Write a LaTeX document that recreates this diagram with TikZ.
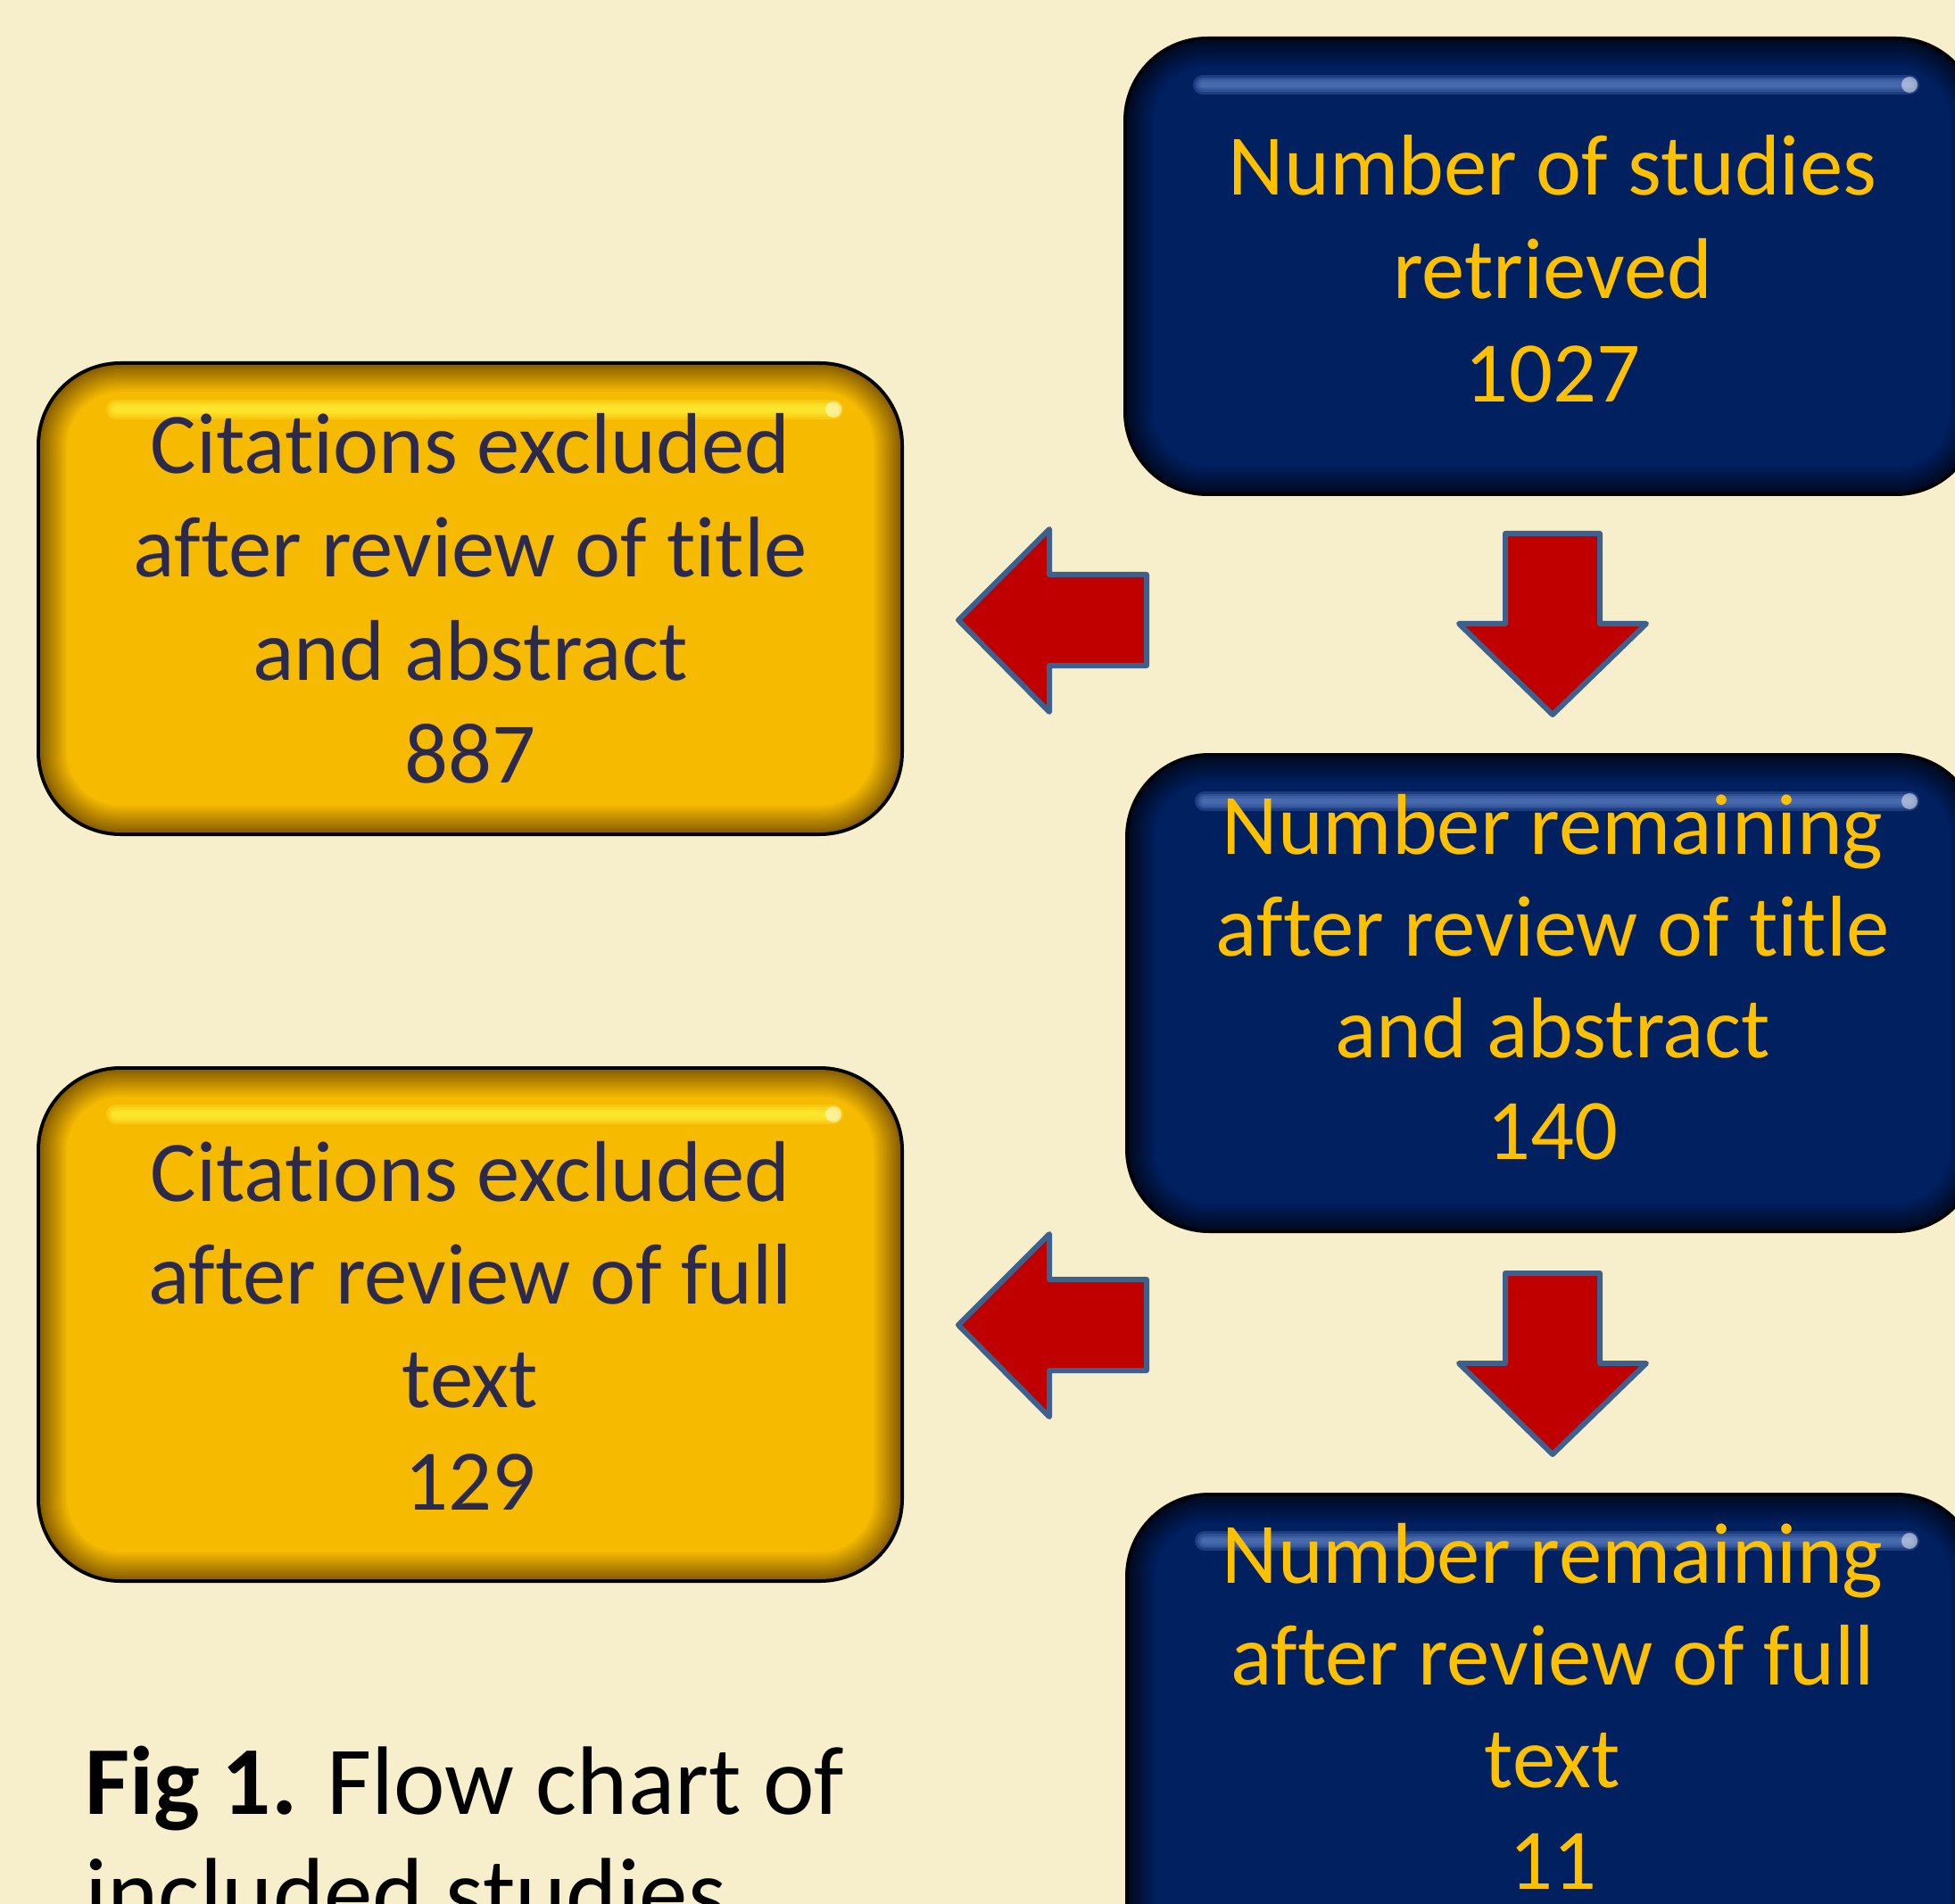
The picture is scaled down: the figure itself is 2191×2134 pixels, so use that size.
\documentclass[tikz,border=0pt]{standalone}
\usepackage{fontspec}
\setmainfont{Carlito}[Ligatures=NoCommon]
\usetikzlibrary{positioning}
\definecolor{cream}{RGB}{247,239,203}
\definecolor{navy}{RGB}{0,32,96}
\definecolor{navydark}{RGB}{0,10,36}
\definecolor{gold}{RGB}{255,192,0}
\definecolor{amber}{RGB}{246,186,0}
\definecolor{amberdark}{RGB}{140,98,0}
\definecolor{inkblue}{RGB}{43,42,77}
\definecolor{arrowred}{RGB}{192,0,0}
\definecolor{arrowedge}{RGB}{62,96,140}
\definecolor{glossblue}{RGB}{95,130,200}
\definecolor{glossyellow}{RGB}{255,245,60}

\begin{document}
\begin{tikzpicture}[x=0.01cm, y=-0.01cm,
    bluetext/.style={anchor=base, inner sep=0pt, text=gold, font=\fontsize{27.5}{33}\selectfont},
    yellowtext/.style={anchor=base, inner sep=0pt, text=inkblue, font=\fontsize{27.5}{33}\selectfont},
    blockarrow/.style={fill=arrowred, draw=arrowedge, line width=0.6mm, line join=round},
    gloss/.style={line cap=round, opacity=0.3}
]
    \clip (0,0) rectangle (2191,2134);
    \fill[cream] (0,0) rectangle (2191,2134);

    % Glossy boxes
    \foreach \xa/\ya/\xb/\yb/\main/\dark/\shine in {
        1263/45/2215/552/navy/navydark/glossblue,
        1265/848/2215/1378/navy/navydark/glossblue,
        1265/1677/2215/2300/navy/navydark/glossblue,
        45/409/1009/933/amber/amberdark/glossyellow,
        45/1199/1009/1770/amber/amberdark/glossyellow} {
        \fill[black, rounded corners=9.4mm] (\xa-4,\ya-4) rectangle (\xb+4,\yb+4);
        \foreach \i in {0,...,12} {
            \pgfmathsetmacro{\dd}{\i*2.5}
            \pgfmathsetmacro{\rad}{9-\i*0.25}
            \pgfmathsetmacro{\pct}{\i*100/12}
            \fill[\main!\pct!\dark, rounded corners=\rad mm] (\xa+\dd,\ya+\dd) rectangle (\xb-\dd,\yb-\dd);
        }
        \foreach \w in {2.2,1.6,1.1,0.6}
            \draw[gloss, \shine, line width=\w mm] (\xa+85,\ya+50) -- (\xb-75,\ya+50);
        \fill[white, opacity=0.5] (\xb-75,\ya+50) circle (9);
    }

    % Box texts
    \foreach \t [count=\k] in {Number of studies, retrieved, 1027}
        \node[bluetext] (found\k) at (1740,{219+116*(\k-1)}) {\t};
    \foreach \t [count=\k] in {Number remaining, after review of title, and abstract, 140}
        \node[bluetext] (screen\k) at (1740,{957+114*(\k-1)}) {\t};
    \foreach \t [count=\k] in {Number remaining, after review of full, text, 11}
        \node[bluetext] (incl\k) at (1740,{1774+114.5*(\k-1)}) {\t};
    \foreach \t [count=\k] in {Citations excluded, after review of title, and abstract, 887}
        \node[yellowtext] (exA\k) at (527,{531+115.5*(\k-1)}) {\t};
    \foreach \t [count=\k] in {Citations excluded, after review of full, text, 129}
        \node[yellowtext] (exB\k) at (527,{1346+115.5*(\k-1)}) {\t};

    % Left arrows
    \foreach \dy in {0,790}
        \draw[blockarrow] (1074,{695+\dy}) -- (1176,{593+\dy}) -- (1176,{644+\dy}) -- (1285,{644+\dy})
            -- (1285,{746+\dy}) -- (1176,{746+\dy}) -- (1176,{798+\dy}) -- cycle;

    % Down arrows
    \foreach \dy in {0,829}
        \draw[blockarrow] (1687,{598+\dy}) -- (1793,{598+\dy}) -- (1793,{699+\dy}) -- (1845,{699+\dy})
            -- (1740,{801+\dy}) -- (1635,{699+\dy}) -- (1687,{699+\dy}) -- cycle;

    % Caption
    \node[anchor=base west, inner sep=0pt, align=left, font=\fontsize{31}{35.5}\selectfont] (caption) at (95,2158)
        {\textbf{Fig 1.} Flow chart of\\included studies};
\end{tikzpicture}
\end{document}
